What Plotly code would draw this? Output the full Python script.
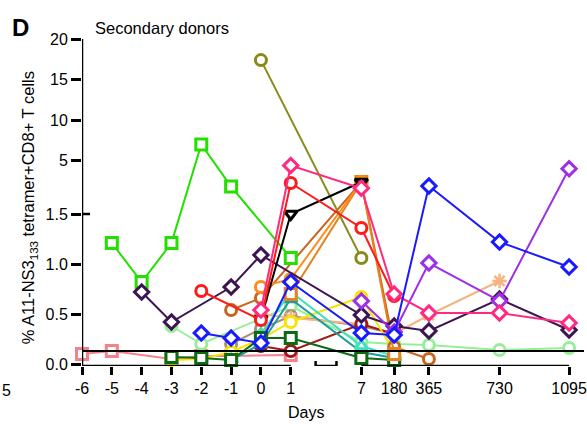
import numpy as np
import plotly.graph_objects as go

# ---- x scale: days on a broken axis (-6..1 evenly, then 7..1095 compressed)
tick_days = [-6, -5, -4, -3, -2, -1, 0, 1, 7, 180, 365, 730, 1095]
tick_labels = ["-6", "-5", "-4", "-3", "-2", "-1", "0", "1", "7", "180", "365", "730", "1095"]
anchor_days = [-6, 1, 7, 180, 365, 730, 1095]
anchor_pos = [-6.0, 1.0, 3.367, 4.467, 5.633, 8.0, 10.333]

# ---- y scale: 0-1.5 linear, then a break, then 1.5-20 compressed
y_ticks = [0, 0.5, 1.0, 1.5, 5, 10, 15, 20]
y_tick_labels = ["0.0", "0.5", "1.0", "1.5", "5", "10", "15", "20"]
LOWER_MAX = 1.5
GAP = 0.25
UPPER_MAX = 20.0
detection_limit = 0.13

# ---- donors (days, % tetramer+ of CD8+)
lime_days = [-5, -4, -3, -2, -1, 1]
lime_vals = [1.21, 0.82, 1.21, 7.0, 1.8, 1.06]

olive_days = [0, 7]
olive_vals = [17.4, 1.06]

plum_days = [-4, -3, -1, 0, 7, 180, 365, 730, 1095]
plum_vals = [0.72, 0.42, 0.77, 1.09, 0.49, 0.38, 0.33, 0.65, 0.34]

blue_days = [-2, -1, 0, 1, 7, 180, 365, 730, 1095]
blue_vals = [0.31, 0.26, 0.21, 0.82, 0.31, 0.29, 1.87, 1.22, 0.97]

red_days = [-2, 0, 1, 7, 180]
red_vals = [0.73, 0.44, 2.24, 1.36, 0.68]

pink_days = [0, 1, 7, 180, 365, 730, 1095]
pink_vals = [0.54, 4.4, 1.6, 0.7, 0.51, 0.51, 0.41]

black_days = [0, 1, 7]
black_vals = [0.45, 1.5, 2.36]

orange_days = [0, 1, 7]
orange_vals = [0.77, 0.85, 2.36]

rust_days = [-1, 0, 7, 180, 365]
rust_vals = [0.54, 0.66, 2.36, 0.17, 0.05]

amber_days = [1, 7, 180]
amber_vals = [0.7, 2.36, 0.1]

yellow_days = [-3, -2, -1, 0, 1, 7, 180]
yellow_vals = [0.04, 0.05, 0.12, 0.25, 0.42, 0.67, 0.12]

tan_days = [0, 1, 7, 180, 365, 730]
tan_vals = [0.5, 0.46, 0.4, 0.3, 0.49, 0.83]

mint_days = [-3, -2, 1, 7, 180, 365, 730, 1095]
mint_vals = [0.38, 0.2, 0.58, 0.22, 0.2, 0.19, 0.14, 0.16]

teal_days = [-1, 0, 1, 7, 180]
teal_vals = [0.04, 0.2, 0.65, 0.12, 0.06]

aqua_days = [0, 1, 7, 180]
aqua_vals = [0.3, 0.72, 0.18, 0.08]

forest_days = [-3, -2, -1, 0, 1, 7, 180]
forest_vals = [0.07, 0.06, 0.04, 0.26, 0.26, 0.06, 0.04]

salmon_days = [-6, -5, -3, -2, -1, 1]
salmon_vals = [0.10, 0.13, 0.05, 0.08, 0.08, 0.09]

violet_days = [7, 180, 365, 730, 1095]
violet_vals = [0.63, 0.32, 1.01, 0.63, 4.0]

taupe_days = [-1, 0, 1, 7, 180]
taupe_vals = [0.2, 0.35, 0.48, 0.38, 0.3]

maroon_days = [0, 1, 7, 180]
maroon_vals = [0.18, 0.13, 0.4, 0.3]

series = [
    ("salmon", salmon_days, salmon_vals, "#f4828c", "square"),
    ("mint", mint_days, mint_vals, "#98ee98", "circle"),
    ("taupe", taupe_days, taupe_vals, "#a89078", "circle"),
    ("tan", tan_days, tan_vals, "#f6b47e", "asterisk-open"),
    ("maroon", maroon_days, maroon_vals, "#a01818", "circle"),
    ("yellow", yellow_days, yellow_vals, "#f5e600", "circle"),
    ("teal", teal_days, teal_vals, "#1f9c9c", "triangle-up"),
    ("aqua", aqua_days, aqua_vals, "#3fe0c0", "triangle-up"),
    ("forest", forest_days, forest_vals, "#0b6a12", "square"),
    ("rust", rust_days, rust_vals, "#c8641e", "circle"),
    ("amber", amber_days, amber_vals, "#e8821e", "square"),
    ("orange", orange_days, orange_vals, "#ff8c1a", "circle"),
    ("olive", olive_days, olive_vals, "#8a8a1a", "circle"),
    ("lime", lime_days, lime_vals, "#22e000", "square"),
    ("plum", plum_days, plum_vals, "#3c1552", "diamond"),
    ("violet", violet_days, violet_vals, "#a02ee6", "diamond"),
    ("black", black_days, black_vals, "#000000", "triangle-down"),
    ("red", red_days, red_vals, "#ff1a1a", "circle"),
    ("pink", pink_days, pink_vals, "#ff2a80", "diamond"),
    ("blue", blue_days, blue_vals, "#1a1aff", "diamond"),
]


def x_pos(days):
    return np.interp(np.asarray(days, dtype=float), anchor_days, anchor_pos)


def y_pos(vals):
    v = np.asarray(vals, dtype=float)
    k = LOWER_MAX / (UPPER_MAX - LOWER_MAX)
    return np.where(v <= LOWER_MAX, v, LOWER_MAX + GAP + (v - LOWER_MAX) * k)


FONT = "Arial, Liberation Sans, sans-serif"
fig = go.Figure()

for name, d, v, col, sym in series:
    marker = dict(symbol=sym, size=11, color="white", line=dict(color=col, width=3))
    if sym == "asterisk-open":
        marker = dict(symbol=sym, size=12, color=col, line=dict(color=col, width=2.5))
    fig.add_trace(go.Scatter(
        x=x_pos(d), y=y_pos(v), mode="lines+markers", name=name,
        line=dict(color=col, width=2), marker=marker,
        cliponaxis=False, showlegend=False,
    ))

x_left = -6.0
x_right = 10.833
y_bottom = -0.02
y_top = float(y_pos([UPPER_MAX])[0])
y_break = float(y_pos([LOWER_MAX])[0])
axis_line = dict(color="black", width=2.5)

shapes = [
    # detection limit
    dict(type="line", xref="x", yref="y", x0=x_left, x1=x_right,
         y0=detection_limit, y1=detection_limit, line=dict(color="black", width=2)),
    # y axis, lower and upper parts
    dict(type="line", xref="x", yref="y", x0=x_left, x1=x_left, y0=y_bottom, y1=LOWER_MAX, line=axis_line),
    dict(type="line", xref="x", yref="y", x0=x_left, x1=x_left, y0=y_break, y1=y_top, line=axis_line),
    dict(type="line", xref="x", yref="y", x0=x_left - 0.17, x1=x_left + 0.27, y0=y_break, y1=y_break, line=axis_line),
    # x axis, two parts with a bracket between
    dict(type="line", xref="x", yref="y", x0=x_left, x1=float(x_pos([1])[0]), y0=y_bottom, y1=y_bottom, line=axis_line),
    dict(type="line", xref="x", yref="y", x0=float(x_pos([7])[0]), x1=float(x_pos([1095])[0]),
         y0=y_bottom, y1=y_bottom, line=axis_line),
    dict(type="line", xref="x", yref="y", x0=1.833, x1=2.533, y0=y_bottom, y1=y_bottom, line=axis_line),
    dict(type="line", xref="x", yref="y", x0=1.833, x1=1.833, y0=0.03, y1=-0.07, line=axis_line),
    dict(type="line", xref="x", yref="y", x0=2.533, x1=2.533, y0=0.03, y1=-0.07, line=axis_line),
]

fig.update_layout(
    width=587, height=424,
    margin=dict(l=82, r=0, t=39, b=58),
    paper_bgcolor="white", plot_bgcolor="white",
    font=dict(family=FONT, size=16, color="black"),
    shapes=shapes,
    xaxis=dict(
        range=[x_left, x_right], showgrid=False, zeroline=False, showline=False,
        tickmode="array", tickvals=x_pos(tick_days), ticktext=tick_labels,
        ticks="outside", ticklen=8, tickwidth=2.5, tickcolor="black",
        tickfont=dict(size=16, family=FONT), ticklabeloverflow="allow",
    ),
    yaxis=dict(
        range=[y_bottom, y_top], showgrid=False, zeroline=False, showline=False,
        tickmode="array", tickvals=y_pos(y_ticks), ticktext=y_tick_labels,
        ticks="outside", ticklen=10, tickwidth=2.5, tickcolor="black",
        tickfont=dict(size=16, family=FONT),
    ),
    annotations=[
        dict(text="<b>D</b>", xref="paper", yref="paper", x=(10 - 82) / 505, y=(366 - 27) / 327,
             xanchor="left", yanchor="middle", showarrow=False, font=dict(size=24, family=FONT)),
        dict(text="Secondary donors", xref="paper", yref="paper", x=(93 - 82) / 505, y=(366 - 28) / 327,
             xanchor="left", yanchor="middle", showarrow=False, font=dict(size=16.5, family=FONT)),
        dict(text="% A11-NS3<sub>133</sub> tetramer+CD8+ T cells", xref="paper", yref="paper",
             x=(29 - 82) / 505, y=(366 - 208) / 327, textangle=-90,
             xanchor="center", yanchor="middle", showarrow=False, font=dict(size=16.5, family=FONT)),
        dict(text="Days", xref="x", yref="paper", x=1.5, y=(366 - 412) / 327,
             xanchor="center", yanchor="middle", showarrow=False, font=dict(size=16, family=FONT)),
        dict(text="5", xref="paper", yref="paper", x=(0 - 82) / 505, y=(366 - 390) / 327,
             xanchor="left", yanchor="middle", showarrow=False, font=dict(size=16, family=FONT)),
    ],
)

fig.write_html("out.html")
